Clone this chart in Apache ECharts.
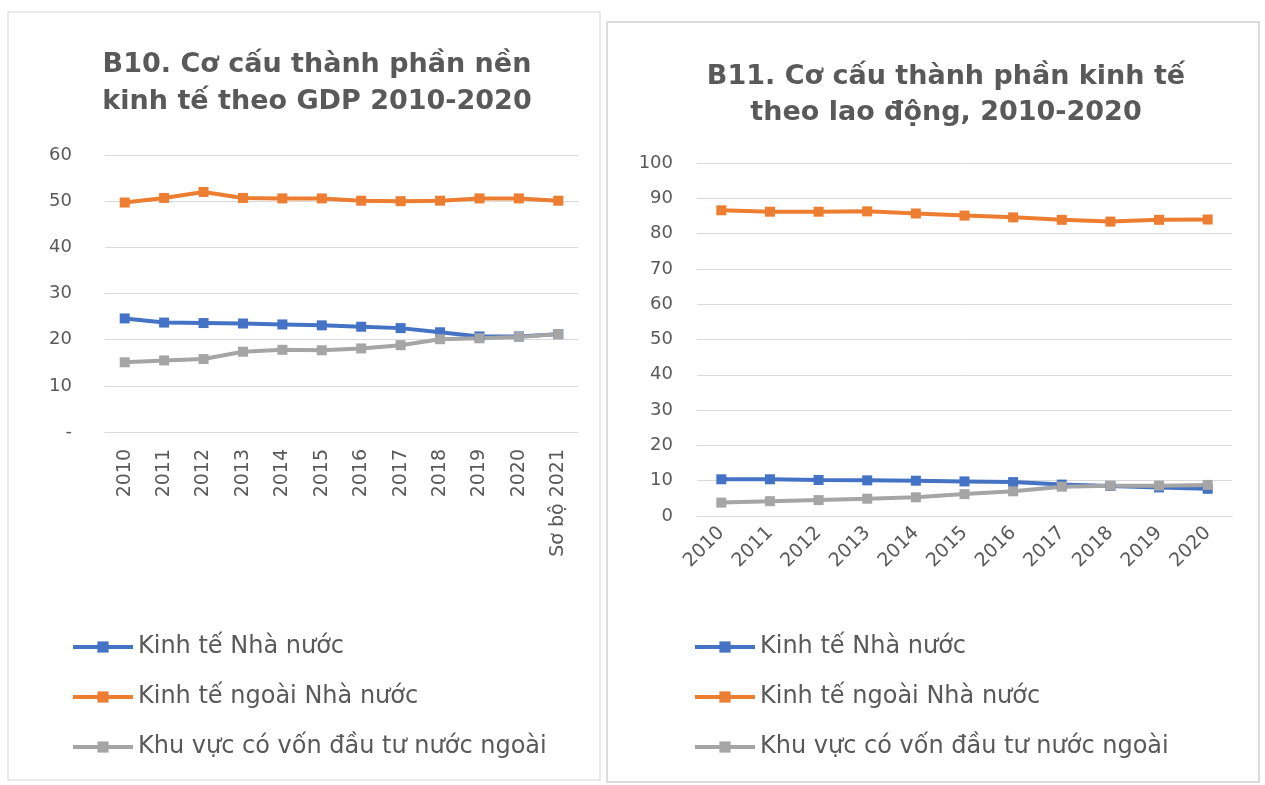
<!DOCTYPE html>
<html>
<head>
<meta charset="utf-8">
<title>B10 - B11</title>
<script src="https://cdn.jsdelivr.net/npm/echarts@6/dist/echarts.min.js"></script>
<style>
  html, body { margin: 0; padding: 0; background: #fff; }
  #chart { width: 1265px; height: 785px; }
</style>
</head>
<body>
<div id="chart"></div>
<script>
// B10 - theo GDP (%)
var yearsGdp = ['2010', '2011', '2012', '2013', '2014', '2015', '2016', '2017', '2018', '2019', '2020', 'Sơ bộ 2021'];
var gdpNhaNuoc = [24.6, 23.7, 23.6, 23.5, 23.3, 23.1, 22.8, 22.5, 21.6, 20.7, 20.7, 21.2];
var gdpNgoaiNhaNuoc = [49.7, 50.7, 52.0, 50.7, 50.6, 50.6, 50.1, 50.0, 50.1, 50.6, 50.6, 50.1];
var gdpFdi = [15.1, 15.5, 15.8, 17.4, 17.8, 17.7, 18.1, 18.8, 20.1, 20.3, 20.6, 21.2];

// B11 - theo lao động (%)
var yearsLd = ['2010', '2011', '2012', '2013', '2014', '2015', '2016', '2017', '2018', '2019', '2020'];
var ldNhaNuoc = [10.4, 10.4, 10.2, 10.1, 10.0, 9.8, 9.6, 8.9, 8.5, 8.1, 7.7];
var ldNgoaiNhaNuoc = [86.6, 86.2, 86.2, 86.3, 85.7, 85.1, 84.6, 83.9, 83.4, 83.9, 84.0];
var ldFdi = [3.8, 4.2, 4.5, 4.9, 5.3, 6.2, 7.0, 8.3, 8.6, 8.6, 8.8];

var seriesNames = ['Kinh tế Nhà nước', 'Kinh tế ngoài Nhà nước', 'Khu vực có vốn đầu tư nước ngoài'];
var colors = ['#4472C4', '#ED7D31', '#A5A5A5'];

var textColor = '#595959';
var gridColor = '#d9d9d9';
var font = 'DejaVu Sans';

var chart = echarts.init(document.getElementById('chart'));

function makeLine(name, data, idx, color) {
  return {
    name: name,
    type: 'line',
    xAxisIndex: idx,
    yAxisIndex: idx,
    data: data,
    symbol: 'rect',
    symbolSize: 10,
    lineStyle: { width: 4, color: color },
    itemStyle: { color: color },
    animation: false
  };
}

function makeLegend(left) {
  return {
    orient: 'vertical',
    left: left,
    top: 629,
    itemWidth: 60,
    itemHeight: 14,
    itemGap: 24,
    data: seriesNames,
    lineStyle: { width: 4 },
    textStyle: { color: textColor, fontSize: 24, lineHeight: 26, fontFamily: font }
  };
}

var option = {
  backgroundColor: '#fff',
  color: colors,
  graphic: [
    { type: 'rect', shape: { x: 8, y: 12, width: 592, height: 768 }, style: { fill: 'none', stroke: '#e3e3e3', lineWidth: 1.5 } },
    { type: 'rect', shape: { x: 607, y: 22, width: 652, height: 760 }, style: { fill: 'none', stroke: '#dcdcdc', lineWidth: 2 } }
  ],
  title: [
    {
      text: 'B10. Cơ cấu thành phần nền\nkinh tế theo GDP 2010-2020',
      left: 312, top: 41, textAlign: 'center',
      textStyle: { color: textColor, fontSize: 27, fontWeight: 'bold', lineHeight: 37, fontFamily: font }
    },
    {
      text: 'B11. Cơ cấu thành phần kinh tế\ntheo lao động, 2010-2020',
      left: 941, top: 54, textAlign: 'center',
      textStyle: { color: textColor, fontSize: 27, fontWeight: 'bold', lineHeight: 36, fontFamily: font }
    }
  ],
  legend: [makeLegend(66), makeLegend(688)],
  grid: [
    { left: 105, right: 687, top: 155, bottom: 353 },
    { left: 697, right: 33, top: 163, bottom: 269 }
  ],
  xAxis: [
    {
      type: 'category', gridIndex: 0, data: yearsGdp,
      axisLine: { lineStyle: { color: gridColor } },
      axisTick: { show: false },
      axisLabel: { rotate: 90, color: textColor, fontSize: 19, margin: 17, fontFamily: font }
    },
    {
      type: 'category', gridIndex: 1, data: yearsLd,
      axisLine: { lineStyle: { color: gridColor } },
      axisTick: { show: false },
      axisLabel: { rotate: 45, color: textColor, fontSize: 19, margin: 14, fontFamily: font }
    }
  ],
  yAxis: [
    {
      type: 'value', gridIndex: 0, min: 0, max: 60, interval: 10,
      axisLine: { show: false }, axisTick: { show: false },
      splitLine: { lineStyle: { color: gridColor } },
      axisLabel: {
        color: textColor, fontSize: 18, margin: 33, fontFamily: font,
        formatter: function (v) { return v === 0 ? '-' : v; }
      }
    },
    {
      type: 'value', gridIndex: 1, min: 0, max: 100, interval: 10,
      axisLine: { show: false }, axisTick: { show: false },
      splitLine: { lineStyle: { color: gridColor } },
      axisLabel: { color: textColor, fontSize: 18, margin: 24, fontFamily: font }
    }
  ],
  series: [
    makeLine(seriesNames[0], gdpNhaNuoc, 0, colors[0]),
    makeLine(seriesNames[1], gdpNgoaiNhaNuoc, 0, colors[1]),
    makeLine(seriesNames[2], gdpFdi, 0, colors[2]),
    makeLine(seriesNames[0], ldNhaNuoc, 1, colors[0]),
    makeLine(seriesNames[1], ldNgoaiNhaNuoc, 1, colors[1]),
    makeLine(seriesNames[2], ldFdi, 1, colors[2])
  ]
};

chart.setOption(option);
</script>
</body>
</html>
